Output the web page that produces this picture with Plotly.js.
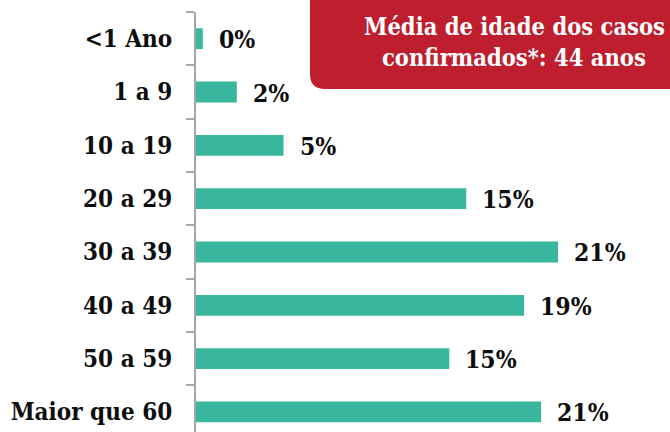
<!DOCTYPE html>
<html>
<head>
<meta charset="utf-8">
<script src="https://cdn.plot.ly/plotly-3.0.1.min.js"></script>
<style>html,body{margin:0;padding:0;background:#fff;}#chart{width:670px;height:432px;}</style>
</head>
<body>
<div id="chart"></div>
<script>
const categories = ["<1 Ano", "1 a 9", "10 a 19", "20 a 29", "30 a 39", "40 a 49", "50 a 59", "Maior que 60"];
const values = [0.4, 2.4, 5.15, 15.9, 21.3, 19.3, 14.9, 20.3];
const valueLabels = ["0%", "2%", "5%", "15%", "21%", "19%", "15%", "21%"];
const boxLines = ["Média de idade dos casos", "confirmados*: 44 anos"];

const L = 196, T = 12, H = 420, W = 474;
const PXPER = 17;
const px2x = p => (p - L) / W;
const px2y = p => (T + H - p) / H;

const font = {family: "DejaVu Serif Condensed", size: 24, color: "#0d0d0d", weight: "bold"};
const valFont = {family: "DejaVu Serif Condensed", size: 24.5, color: "#0d0d0d", weight: "bold"};

const trace = {
  type: "bar", orientation: "h",
  x: values, y: categories,
  marker: {color: "#38B69E"},
  width: 0.39,
  hoverinfo: "skip"
};

const annotations = categories.map((c, i) => ({
  x: values[i], y: c, xref: "x", yref: "y",
  text: valueLabels[i], showarrow: false,
  xanchor: "left", yanchor: "middle", xshift: 14, yshift: -1,
  font: valFont
}));

// rounded box
const bx0 = 310, bx1 = 700, by0 = -20, by1 = 89, r = 15;
const path = [
  "M", px2x(bx0), px2y(by0),
  "L", px2x(bx0), px2y(by1 - r),
  "Q", px2x(bx0), px2y(by1), px2x(bx0 + r), px2y(by1),
  "L", px2x(bx1), px2y(by1),
  "L", px2x(bx1), px2y(by0), "Z"
].join(" ");

const boxY = [27, 58];
boxLines.forEach((t, i) => annotations.push({
  xref: "paper", yref: "paper", x: px2x(514), y: px2y(boxY[i]),
  xanchor: "center", yanchor: "middle", showarrow: false,
  text: t, align: "center",
  font: {family: "DejaVu Serif Condensed", size: 23.5, color: "#ffffff", weight: "bold"}
}));

const layout = {
  width: 670, height: 432,
  margin: {l: L, r: 670 - L - W, t: T, b: 0, pad: 0},
  paper_bgcolor: "#ffffff", plot_bgcolor: "#ffffff",
  showlegend: false,
  xaxis: {range: [0, W / PXPER], visible: false, fixedrange: true},
  yaxis: {
    type: "category", range: [-0.5 + H / 53.33, -0.5],
    showline: true, linecolor: "#A6A6A6", linewidth: 2,
    ticks: "outside", ticklen: 8, tickcolor: "#A6A6A6", tickwidth: 2,
    tickson: "boundaries", showgrid: false, zeroline: false,
    tickfont: font, ticklabelstandoff: 17, automargin: false
  },
  shapes: [{type: "path", path: path, xref: "paper", yref: "paper",
    fillcolor: "#BE1E2D", line: {width: 0}, layer: "above"}],
  annotations: annotations
};

Plotly.newPlot("chart", [trace], layout, {displayModeBar: false, staticPlot: true});
</script>
</body>
</html>
